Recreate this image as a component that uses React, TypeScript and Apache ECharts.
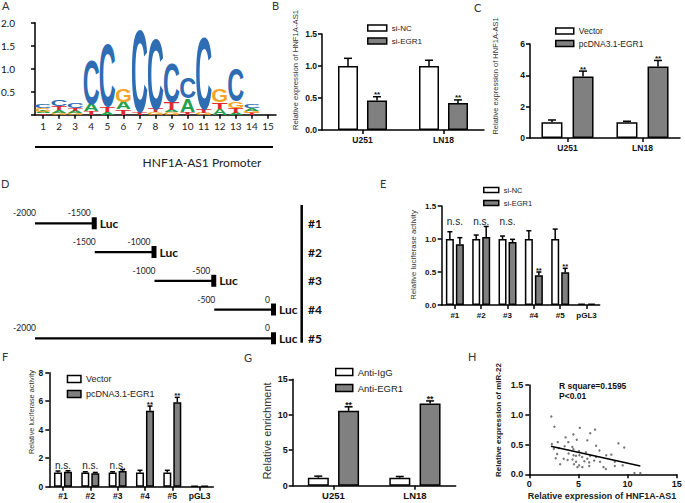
import React, { useEffect, useRef } from 'react';
import * as echarts from 'echarts';

const FONT = 'Liberation Sans';
const CAL = 'Lato';

// ---------- Panel A: sequence logo ----------
const logoPositions = ['1', '2', '3', '4', '5', '6', '7', '8', '9', '10', '11', '12', '13', '14', '15'];
const logoLetters = ['TAGC', 'GATC', 'GATC', 'TAC', 'ATC', 'TAG', 'TC', 'GTC', 'GATC', 'TAC', 'GTC', 'ATG', 'ATGC', 'TGAC', ''];
const logoHeights = [
  [0.03, 0.04, 0.07, 0.08],
  [0.04, 0.06, 0.08, 0.13],
  [0.04, 0.05, 0.06, 0.1],
  [0.07, 0.17, 0.98],
  [0.05, 0.12, 1.38],
  [0.12, 0.16, 0.3],
  [0.04, 1.83],
  [0.05, 0.08, 1.56],
  [0.05, 0.05, 0.17, 0.88],
  [0.06, 0.29, 0.47],
  [0.04, 0.08, 1.6],
  [0.13, 0.15, 0.28],
  [0.04, 0.11, 0.15, 0.72],
  [0.04, 0.05, 0.05, 0.07],
  [],
];

// ---------- Panel B ----------
const cellLines = ['U251', 'LN18'];
const bSiNC = [1.0, 1.0];
const bSiNCErr = [1.12, 1.09];
const bSiEGR1 = [0.46, 0.42];
const bSiEGR1Err = [0.52, 0.47];
const bSig = ['**', '**'];

// ---------- Panel C ----------
const cVector = [1.0, 1.0];
const cVectorErr = [1.15, 1.07];
const cEGR1 = [3.93, 4.57];
const cEGR1Err = [4.27, 4.95];
const cSig = ['**', '**'];

// ---------- Panel D ----------
const constructNames = ['#1', '#2', '#3', '#4', '#5'];
const constructStart = [-2000, -1500, -1000, -500, -2000];
const constructEnd = [-1500, -1000, -500, 0, 0];

// ---------- Panel E ----------
const reporters = ['#1', '#2', '#3', '#4', '#5', 'pGL3'];
const eSiNC = [1, 1, 1, 1, 1, 0.02];
const eSiNCErr = [1.11, 1.06, 1.045, 1.125, 1.15, 0.02];
const eSiEGR1 = [0.92, 1.03, 0.955, 0.45, 0.495, 0.02];
const eSiEGR1Err = [1.02, 1.19, 0.995, 0.5, 0.556, 0.02];
const eSig = ['n.s.', 'n.s.', 'n.s.', '**', '**', ''];

// ---------- Panel F ----------
const fVector = [1, 1, 1, 1, 1, 0.08];
const fVectorErr = [1.1, 1.05, 1.05, 1.15, 1.15, 0.08];
const fEGR1 = [1.05, 0.95, 1.1, 5.33, 5.92, 0.08];
const fEGR1Err = [1.12, 1.0, 1.2, 5.66, 6.27, 0.08];
const fSig = ['n.s.', 'n.s.', 'n.s.', '**', '**', ''];

// ---------- Panel G ----------
const gIgG = [1.12, 1.12];
const gIgGErr = [1.35, 1.3];
const gEGR1 = [10.55, 11.6];
const gEGR1Err = [11.12, 11.95];
const gSig = ['**', '**'];

// ---------- Panel H ----------
const scatterX = [2.24, 2.55, 5.14, 6.69, 4.49, 6.2, 3.69, 4.83, 5.9, 2.9, 3.97, 9.07, 2.3, 6.8, 9.66, 3.6, 4.38, 2.5, 3.0, 4.49, 5.07, 5.76, 7.14, 2.83, 4.0, 4.5, 4.75, 5.1, 5.38, 5.9, 6.2, 6.8, 7.83, 8.35, 2.69, 3.5, 3.9, 4.4, 4.76, 5.6, 6.1, 6.6, 7.2, 8.7, 3.14, 4.55, 5.07, 4.9, 5.4, 6.1, 7.55, 7.8, 8.7, 9.5, 10.7, 11.3];
const scatterY = [0.97, 0.8, 0.78, 0.75, 0.67, 0.69, 0.62, 0.58, 0.57, 0.54, 0.54, 0.52, 0.51, 0.48, 0.45, 0.47, 0.46, 0.43, 0.44, 0.42, 0.39, 0.37, 0.4, 0.34, 0.35, 0.32, 0.31, 0.32, 0.29, 0.26, 0.31, 0.29, 0.32, 0.33, 0.27, 0.26, 0.24, 0.25, 0.21, 0.22, 0.2, 0.23, 0.21, 0.21, 0.17, 0.17, 0.15, 0.12, 0.12, 0.14, 0.12, 0.09, 0.14, 0.15, 0.02, 0.02];
const regX = [2.2, 11.3];
const regY = [0.47, 0.14];

const LETTER_COLORS: Record<string, string> = { A: '#23a04a', C: '#2e6cb4', G: '#f4a424', T: '#e2282c' };
const INK: Record<string, number> = { A: 0.7, C: 0.63, G: 0.68, T: 0.58 };
const GRAY = '#808080';

const axLine = { show: true, lineStyle: { color: '#000', width: 1.5 } };
const axTick = { show: true, length: 4, lineStyle: { color: '#000', width: 1.5 } };

function catX(gi: number, data: string[], fs: number, margin: number, weight = 'bold', family = FONT, color = '#111') {
  return {
    type: 'category', gridIndex: gi, data, boundaryGap: true,
    axisLine: axLine, axisTick: { ...axTick, alignWithLabel: true },
    axisLabel: { fontSize: fs, fontWeight: weight, fontFamily: family, color, margin, interval: 0 },
    splitLine: { show: false },
  };
}
function valAxis(gi: number, min: number, max: number, interval: number, fs: number, margin: number, fmt: (v: number) => string, weight = 'bold', family = FONT) {
  return {
    type: 'value', gridIndex: gi, min, max, interval,
    axisLine: axLine, axisTick: axTick,
    axisLabel: { fontSize: fs, fontWeight: weight, fontFamily: family, color: '#111', margin, formatter: fmt, showMinLabel: true, showMaxLabel: true },
    splitLine: { show: false },
  };
}
function hiddenAxis(gi: number, min: number, max: number, inverse = false) {
  return { type: 'value', gridIndex: gi, min, max, inverse, show: false, splitLine: { show: false } };
}

function bars(name: string, gi: number, data: number[], fill: string, barW: number, gapPct: string) {
  return {
    type: 'bar', name, xAxisIndex: gi, yAxisIndex: gi, data, barWidth: barW, barGap: gapPct,
    itemStyle: { color: fill, borderColor: '#000', borderWidth: 1.5 }, silent: true, z: 2,
  };
}

function errs(gi: number, vals: number[], errArr: number[], sIdx: number, barW: number, gapPx: number, capW: number, sig: string[] | null, nsLevel: number, starFs: number, nsFs: number) {
  return {
    type: 'custom', xAxisIndex: gi, yAxisIndex: gi, z: 5, silent: true, clip: false,
    encode: { x: 0, y: [1, 2] },
    data: vals.map((v, i) => [i, v, errArr[i]]),
    renderItem: (params: any, api: any) => {
      const i = api.value(0), v = api.value(1), e = api.value(2);
      const c = api.coord([i, v]);
      const ce = api.coord([i, e]);
      const x = c[0] + (sIdx - 0.5) * (barW + gapPx);
      const ch: any[] = [];
      if (e > v + 1e-6) {
        ch.push({ type: 'line', shape: { x1: x, y1: c[1], x2: x, y2: ce[1] }, style: { stroke: '#000', lineWidth: 1.5 } });
        ch.push({ type: 'line', shape: { x1: x - capW / 2, y1: ce[1], x2: x + capW / 2, y2: ce[1] }, style: { stroke: '#000', lineWidth: 1.5 } });
      }
      if (sig) {
        const s = sig[params.dataIndex];
        if (s === '**') {
          ch.push({ type: 'text', x, y: ce[1] - 2, style: { text: '**', fontSize: starFs, fontWeight: 'bold', fontFamily: FONT, fill: '#111', align: 'center', verticalAlign: 'middle' } });
        } else if (s === 'n.s.') {
          const n = api.coord([i, nsLevel]);
          ch.push({ type: 'text', x: n[0], y: n[1], style: { text: 'n.s.', fontSize: nsFs, fontFamily: FONT, fill: '#222', align: 'center', verticalAlign: 'middle' } });
        }
      }
      return { type: 'group', children: ch };
    },
  };
}

function txt(text: string, x: number, y: number, fs: number, opts: any = {}) {
  return {
    type: 'text', x, y, rotation: opts.rotation || 0, silent: true,
    style: {
      text, fontSize: fs, fontFamily: opts.family || FONT, fontWeight: opts.weight || 'normal',
      fill: opts.color || '#222', align: opts.align || 'center', verticalAlign: 'middle',
    },
  };
}

function buildOption() {
  const logoData: number[][] = [];
  logoLetters.forEach((letters, p) => {
    let base = 0;
    letters.split('').forEach((L, k) => {
      const h = logoHeights[p][k];
      logoData.push([p, base, base + h, 'ACGT'.indexOf(L)]);
      base += h;
    });
  });

  const grids = [
    { left: 35, top: 22.7, width: 241, height: 92 },
    { left: 322, top: 34, width: 162, height: 96 },
    { left: 530, top: 44, width: 150, height: 94 },
    { left: 35, top: 208.9, width: 239, height: 143.75 },
    { left: 441.7, top: 206, width: 158, height: 99 },
    { left: 49.3, top: 372.7, width: 164, height: 114 },
    { left: 292.7, top: 379.3, width: 163, height: 106.4 },
    { left: 529.3, top: 385, width: 147.4, height: 89.3 },
  ].map((g) => ({ ...g, containLabel: false, outerBoundsMode: 'none' }));

  const f1 = (v: number) => v.toFixed(1);
  const f0 = (v: number) => String(v);

  const xAxis = [
    catX(0, logoPositions, 10, 6, 'normal', CAL, '#222'),
    catX(1, cellLines, 8.5, 5),
    catX(2, cellLines, 8.5, 5),
    hiddenAxis(3, -2000, 0),
    catX(4, reporters, 8, 6),
    catX(5, reporters, 8.5, 5),
    catX(6, cellLines, 9.5, 5),
    valAxis(7, 0, 15, 5, 9, 5, f0),
  ];
  const yAxis = [
    valAxis(0, 0, 2, 0.5, 10, 20, (v: number) => (v === 0 ? '' : v.toFixed(1)), 'normal', CAL),
    valAxis(1, 0, 1.5, 0.5, 8.5, 5, f1),
    valAxis(2, 0, 6, 2, 8.5, 5, f0),
    hiddenAxis(3, 0.5, 5.5, true),
    valAxis(4, 0, 1.5, 0.5, 8, 5.5, f1),
    valAxis(5, 0, 8, 2, 8.5, 6, f0),
    valAxis(6, 0, 15, 5, 9, 5, f0),
    valAxis(7, 0, 1.5, 0.5, 9, 6, f1),
  ];

  const series: any[] = [];

  series.push({
    type: 'custom', xAxisIndex: 0, yAxisIndex: 0, silent: true, clip: false, z: 3,
    encode: { x: 0, y: [1, 2] },
    data: logoData,
    renderItem: (params: any, api: any) => {
      const p = api.value(0), y0 = api.value(1), y1 = api.value(2), li = api.value(3);
      const L = 'ACGT'[li];
      const b = api.coord([p, y0]);
      const t = api.coord([p, y1]);
      const band = api.size([1, 0])[0];
      const w = band * 0.92;
      const h = b[1] - t[1];
      const F = 100;
      const sx = w / (INK[L] * F);
      const sy = h / (0.72 * F);
      return {
        type: 'text', x: b[0], y: (b[1] + t[1]) / 2 + 0.0115 * F * sy, scaleX: sx, scaleY: sy,
        style: { text: L, fontSize: F, fontWeight: 'bold', fontFamily: FONT, fill: LETTER_COLORS[L], align: 'center', verticalAlign: 'middle' },
      };
    },
  });

  series.push(bars('si-NC', 1, bSiNC, '#fff', 20, '45%'));
  series.push(bars('si-EGR1', 1, bSiEGR1, GRAY, 20, '45%'));
  series.push(errs(1, bSiNC, bSiNCErr, 0, 20, 9, 8, null, 0, 8, 10));
  series.push(errs(1, bSiEGR1, bSiEGR1Err, 1, 20, 9, 8, bSig, 0, 8, 10));

  series.push(bars('Vector', 2, cVector, '#fff', 21, '48%'));
  series.push(bars('pcDNA3.1-EGR1', 2, cEGR1, GRAY, 21, '48%'));
  series.push(errs(2, cVector, cVectorErr, 0, 21, 10, 8, null, 0, 8, 10));
  series.push(errs(2, cEGR1, cEGR1Err, 1, 21, 10, 8, cSig, 0, 8, 10));

  series.push({
    type: 'custom', xAxisIndex: 3, yAxisIndex: 3, silent: true, clip: false,
    encode: { x: [0, 1], y: 2 },
    data: constructStart.map((s, i) => [s, constructEnd[i], i + 1]),
    renderItem: (params: any, api: any) => {
      const s = api.value(0), e = api.value(1), r = api.value(2);
      const p0 = api.coord([s, r]);
      const p1 = api.coord([e, r]);
      const z = api.coord([0, r]);
      const y = p0[1];
      return {
        type: 'group',
        children: [
          { type: 'line', shape: { x1: p0[0], y1: y, x2: p1[0], y2: y }, style: { stroke: '#000', lineWidth: 2.2 } },
          { type: 'rect', shape: { x: p1[0] - 3, y: y - 6, width: 5, height: 12 }, style: { fill: '#000' } },
          { type: 'text', x: p1[0] + 5, y, style: { text: 'Luc', fontSize: 12, fontWeight: 'bold', fontFamily: CAL, fill: '#111', align: 'left', verticalAlign: 'middle' } },
          { type: 'text', x: p0[0] + 1, y: y - 10, style: { text: String(s), fontSize: 8.5, fontFamily: CAL, fill: '#222', align: 'right', verticalAlign: 'middle' } },
          { type: 'text', x: p1[0] - 4, y: y - 10, style: { text: String(e), fontSize: 8.5, fontFamily: CAL, fill: '#222', align: 'right', verticalAlign: 'middle' } },
          { type: 'text', x: z[0] + 34, y, style: { text: constructNames[params.dataIndex], fontSize: 12, fontWeight: 'bold', fontFamily: CAL, fill: '#111', align: 'left', verticalAlign: 'middle' } },
        ],
      };
    },
  });

  series.push(bars('si-NC', 4, eSiNC, '#fff', 8, '25%'));
  series.push(bars('si-EGR1', 4, eSiEGR1, GRAY, 8, '25%'));
  series.push(errs(4, eSiNC, eSiNCErr, 0, 8, 2, 5, null, 0, 7.5, 10));
  series.push(errs(4, eSiEGR1, eSiEGR1Err, 1, 8, 2, 5, eSig, 1.26, 7.5, 10));

  series.push(bars('Vector', 5, fVector, '#fff', 8, '25%'));
  series.push(bars('pcDNA3.1-EGR1', 5, fEGR1, GRAY, 8, '25%'));
  series.push(errs(5, fVector, fVectorErr, 0, 8, 2, 5, null, 0, 8, 10));
  series.push(errs(5, fEGR1, fEGR1Err, 1, 8, 2, 5, fSig, 1.52, 8, 10));

  series.push(bars('Anti-IgG', 6, gIgG, '#fff', 21, '44%'));
  series.push(bars('Anti-EGR1', 6, gEGR1, GRAY, 21, '44%'));
  series.push(errs(6, gIgG, gIgGErr, 0, 21, 9.3, 8, null, 0, 8, 10));
  series.push(errs(6, gEGR1, gEGR1Err, 1, 21, 9.3, 8, gSig, 0, 8.5, 10));

  series.push({
    type: 'scatter', xAxisIndex: 7, yAxisIndex: 7, silent: true,
    data: scatterX.map((x, i) => [x, scatterY[i]]),
    symbol: 'circle', symbolSize: 2.4, itemStyle: { color: '#555' },
  });
  series.push({
    type: 'line', xAxisIndex: 7, yAxisIndex: 7, silent: true,
    data: regX.map((x, i) => [x, regY[i]]),
    symbol: 'none', lineStyle: { color: '#000', width: 1.5 },
  });

  const legendBase = {
    orient: 'vertical', icon: 'rect', padding: 0, selectedMode: false,
    itemStyle: { borderColor: '#000', borderWidth: 1.5 },
  };
  const legend = [
    { ...legendBase, data: ['si-NC', 'si-EGR1'], left: 367, top: 24, itemWidth: 19, itemHeight: 6, itemGap: 5, textStyle: { fontSize: 8, fontFamily: FONT, color: '#222' } },
    { ...legendBase, data: ['Vector', 'pcDNA3.1-EGR1'], left: 555, top: 26.5, itemWidth: 18, itemHeight: 6, itemGap: 3.5, textStyle: { fontSize: 8.5, fontFamily: FONT, color: '#222' } },
    { ...legendBase, data: ['si-NC', 'si-EGR1'], left: 483, top: 186, itemWidth: 15, itemHeight: 5, itemGap: 5, textStyle: { fontSize: 7.5, fontFamily: FONT, color: '#222' } },
    { ...legendBase, data: ['Vector', 'pcDNA3.1-EGR1'], left: 66.7, top: 374.5, itemWidth: 13.5, itemHeight: 7, itemGap: 6, textStyle: { fontSize: 9, fontFamily: FONT, color: '#222' } },
    { ...legendBase, data: ['Anti-IgG', 'Anti-EGR1'], left: 335, top: 367, itemWidth: 17, itemHeight: 7, itemGap: 6, textStyle: { fontSize: 9.5, fontFamily: FONT, color: '#222' } },
  ];

  const rot = Math.PI / 2;
  const graphic = [
    txt('A', 2, 5, 11, { family: CAL, align: 'left', color: '#333' }),
    txt('B', 272, 5, 11, { family: CAL, align: 'left', color: '#333' }),
    txt('C', 474, 7, 11, { family: CAL, align: 'left', color: '#333' }),
    txt('D', 1, 183.5, 11, { family: CAL, align: 'left', color: '#333' }),
    txt('E', 380, 183.5, 11, { family: CAL, align: 'left', color: '#333' }),
    txt('F', 2, 356, 11, { family: CAL, align: 'left', color: '#333' }),
    txt('G', 244, 357, 11, { family: CAL, align: 'left', color: '#333' }),
    txt('H', 468, 356.5, 11, { family: CAL, align: 'left', color: '#333' }),
    { type: 'line', silent: true, shape: { x1: 35, y1: 147, x2: 273, y2: 147 }, style: { stroke: '#000', lineWidth: 2.2 } },
    txt('HNF1A-AS1 Promoter', 202, 162, 12, { family: CAL }),
    txt('Relative expression of HNF1A-AS1', 295, 70, 7.7, { rotation: rot, color: '#333' }),
    txt('Relative expression of HNF1A-AS1', 495, 76, 7.5, { rotation: rot, color: '#333' }),
    { type: 'line', silent: true, shape: { x1: 301.7, y1: 205, x2: 301.7, y2: 342.7 }, style: { stroke: '#000', lineWidth: 2.5 } },
    txt('Relative luciferase activity', 413, 255, 7.8, { rotation: rot, color: '#333' }),
    txt('Relative luciferase activity', 31.7, 412, 7.3, { rotation: rot, color: '#333' }),
    txt('Relative enrichment', 266.7, 431, 11, { rotation: rot, color: '#333' }),
    txt('Relative expression of miR-22', 498, 420, 8, { rotation: rot, weight: 'bold', color: '#222' }),
    txt('Relative expression of HNF1A-AS1', 602, 496, 9, { weight: 'bold', color: '#222' }),
    txt('R square=0.1595', 559, 385.7, 8.5, { weight: 'bold', align: 'left', color: '#111' }),
    txt('P<0.01', 559, 396, 8.5, { weight: 'bold', align: 'left', color: '#111' }),
  ];

  return {
    animation: false,
    backgroundColor: '#fff',
    grid: grids,
    xAxis,
    yAxis,
    legend,
    series,
    graphic,
  };
}

export default function App() {
  const ref = useRef<HTMLDivElement>(null);
  useEffect(() => {
    document.body.style.margin = '0';
    const chart = echarts.init(ref.current as HTMLDivElement, null, { renderer: 'svg' });
    chart.setOption(buildOption() as any);
    return () => chart.dispose();
  }, []);
  return <div ref={ref} style={{ width: 685, height: 503 }} />;
}
